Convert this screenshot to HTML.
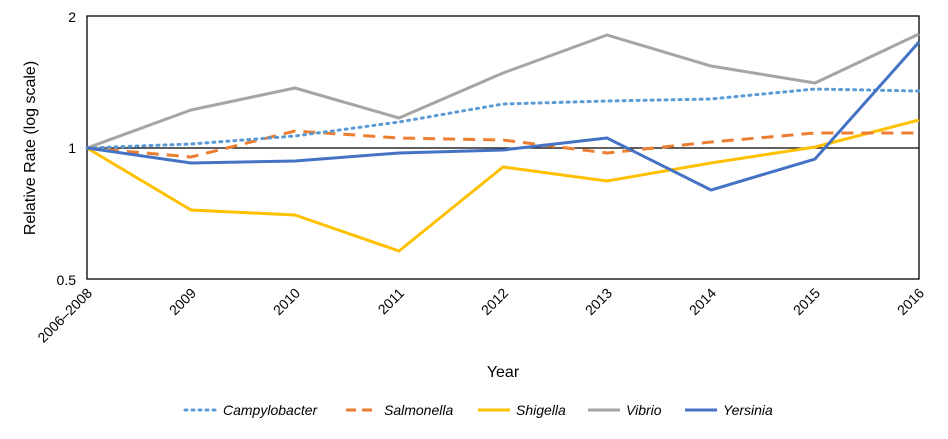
<!DOCTYPE html><html><head><style>body{margin:0;background:#fff}svg{font-family:"Liberation Sans",Calibri,sans-serif}</style></head><body>
<svg width="948" height="434" viewBox="0 0 948 434">
<rect x="87" y="16" width="832" height="263" fill="none" stroke="#000" stroke-width="1.3"/>
<line x1="87" y1="148" x2="919" y2="148" stroke="#000" stroke-width="1.2"/>
<g fill="none" stroke-width="3" stroke-linejoin="round">
<polyline stroke="#a5a5a5" points="87,148 191,110 295,88 399,118 503,73 607,35 711,66 815,83 919,34"/>
<polyline stroke="#ffc000" points="87,148 191,210 295,215 399,251 503,167 607,181 711,163 815,147 919,120"/>
<polyline stroke="#ed7d31" stroke-dasharray="12,8" points="87,148 191,157 295,131 399,138 503,140 607,153 711,142 815,133 919,133"/>
<polyline stroke="#5b9bd5" stroke-dasharray="2,5" stroke-linecap="round" points="87,148 191,144 295,136 399,122 503,104 607,101 711,99 815,89 919,91"/>
<polyline stroke="#4472c4" points="87,148 191,163 295,161 399,153 503,150 607,138 711,190 815,159 919,42"/>
</g>
<g font-size="14" text-anchor="end" fill="#000">
<text x="76" y="22">2</text><text x="76" y="153">1</text><text x="76" y="285">0.5</text>
</g>
<g font-size="14" text-anchor="end">
<text transform="translate(93,294) rotate(-45)">2006–2008</text>
<text transform="translate(197,294) rotate(-45)">2009</text>
<text transform="translate(301,294) rotate(-45)">2010</text>
<text transform="translate(405,294) rotate(-45)">2011</text>
<text transform="translate(509,294) rotate(-45)">2012</text>
<text transform="translate(613,294) rotate(-45)">2013</text>
<text transform="translate(717,294) rotate(-45)">2014</text>
<text transform="translate(821,294) rotate(-45)">2015</text>
<text transform="translate(925,294) rotate(-45)">2016</text>
</g>
<text x="503" y="377" font-size="16" text-anchor="middle">Year</text>
<text transform="translate(35,148) rotate(-90)" font-size="16" text-anchor="middle">Relative Rate (log scale)</text>
<g font-size="14" font-style="italic">
<line x1="185" y1="410" x2="217" y2="410" stroke="#5b9bd5" stroke-width="3" stroke-dasharray="2,5" stroke-linecap="round"/><text x="223" y="415">Campylobacter</text>
<line x1="346" y1="410" x2="378" y2="410" stroke="#ed7d31" stroke-width="3" stroke-dasharray="10,6"/><text x="384" y="415">Salmonella</text>
<line x1="478" y1="410" x2="510" y2="410" stroke="#ffc000" stroke-width="3"/><text x="516" y="415">Shigella</text>
<line x1="588" y1="410" x2="620" y2="410" stroke="#a5a5a5" stroke-width="3"/><text x="626" y="415">Vibrio</text>
<line x1="685" y1="410" x2="717" y2="410" stroke="#4472c4" stroke-width="3"/><text x="723" y="415">Yersinia</text>
</g>
</svg></body></html>
